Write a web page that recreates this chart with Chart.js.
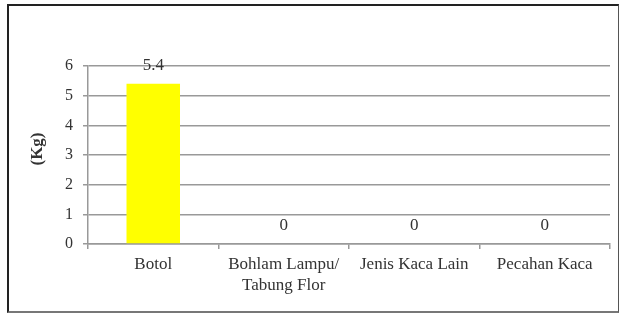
<!DOCTYPE html>
<html><head><meta charset="utf-8">
<script src="https://cdn.jsdelivr.net/npm/chart.js@4/dist/chart.umd.min.js"></script>
<style>
html,body{margin:0;padding:0;background:#fff;}
#wrap{position:absolute;left:7px;top:4px;width:609px;height:305px;border-top:2px solid #222;border-left:2px solid #222;border-right:1px solid #555;border-bottom:2px solid #777;}
canvas{display:block;}
</style></head><body>
<div id="wrap"><canvas id="c" width="609" height="305"></canvas></div>
<script>
const categories = [["Botol"], ["Bohlam Lampu/", "Tabung Flor"], ["Jenis Kaca Lain"], ["Pecahan Kaca"]];
const values = [5.4, 0, 0, 0];
const yTicks = [0, 1, 2, 3, 4, 5, 6];
const yTitle = "(Kg)";
const SERIF = '"Liberation Serif", "Times New Roman", serif';

const valueLabels = {
  id: 'valueLabels',
  afterDatasetsDraw(chart) {
    const ctx = chart.ctx;
    const meta = chart.getDatasetMeta(0);
    ctx.save();
    ctx.font = '17px ' + SERIF;
    ctx.fillStyle = '#333';
    ctx.textAlign = 'center';
    ctx.textBaseline = 'middle';
    meta.data.forEach((bar, i) => {
      ctx.fillText(String(values[i]), bar.x, bar.y - 18);
    });
    // y-axis title
    const area = chart.chartArea;
    ctx.font = 'bold 17px ' + SERIF;
    ctx.translate(29, (area.top + area.bottom) / 2 - 6);
    ctx.rotate(-Math.PI / 2);
    ctx.fillText(yTitle, 0, 0);
    ctx.restore();
  }
};

new Chart(document.getElementById('c'), {
  type: 'bar',
  data: {
    labels: categories,
    datasets: [{
      data: values,
      backgroundColor: '#ffff00',
      borderWidth: 0,
      categoryPercentage: 1,
      barPercentage: 0.41
    }]
  },
  options: {
    responsive: false,
    animation: false,
    layout: { padding: { top: 60, right: 8, bottom: 0, left: 0 } },
    plugins: { legend: { display: false }, tooltip: { enabled: false } },
    scales: {
      x: {
        offset: true,
        grid: { offset: true, drawOnChartArea: false, drawTicks: true, tickLength: 5, color: '#999', lineWidth: 1.5 },
        border: { color: '#999', width: 1.5 },
        ticks: { color: '#333', padding: 6, font: { family: SERIF, size: 17, lineHeight: 1.18 } },
        afterFit(s) { s.height = 67; }
      },
      y: {
        min: 0, max: 6,
        afterBuildTicks(s) { s.ticks = yTicks.map(v => ({ value: v })); },
        grid: { color: '#999', lineWidth: 1.5, tickLength: 5 },
        border: { color: '#999', width: 1.5 },
        ticks: { color: '#333', padding: 10, font: { family: SERIF, size: 16 } },
        afterFit(s) { s.width = 79; }
      }
    }
  },
  plugins: [valueLabels]
});
</script>
</body></html>
